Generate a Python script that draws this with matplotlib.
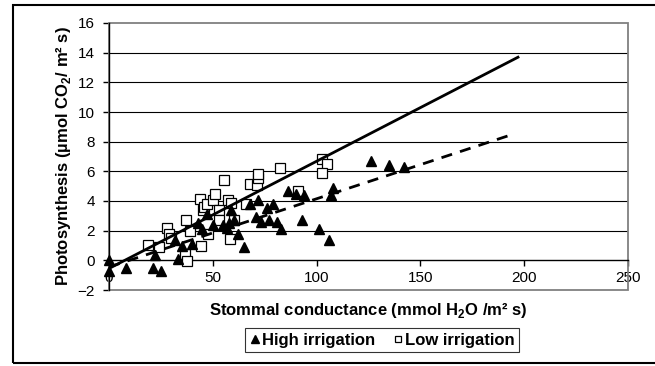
import matplotlib
matplotlib.use('Agg')
import matplotlib.pyplot as plt
import numpy as np
from matplotlib.patches import Rectangle

plt.rcParams['font.family'] = ['Liberation Sans', 'DejaVu Sans']
plt.rcParams['mathtext.fontset'] = 'custom'
plt.rcParams['mathtext.rm'] = 'Liberation Sans'
plt.rcParams['mathtext.bf'] = 'Liberation Sans:bold'

# High irrigation (triangles)
high_x = [0, 0, 8, 21, 25, 22, 33, 35, 32, 40, 43, 45, 47, 50, 55, 57, 58, 59, 60, 62,
          65, 68, 71, 72, 73, 76, 77, 79, 81, 83, 86, 90, 93, 94, 101, 106, 107, 108,
          126, 135, 142]
high_y = [0.0, -0.7, -0.5, -0.5, -0.7, 0.35, 0.1, 1.0, 1.4, 1.1, 2.5, 2.1, 3.15, 2.4, 2.4,
          2.2, 2.5, 3.4, 2.7, 1.8, 0.9, 3.8, 2.9, 4.1, 2.6, 3.5, 2.7, 3.8, 2.6, 2.1, 4.7,
          4.5, 2.75, 4.4, 2.1, 1.4, 4.4, 4.9, 6.7, 6.4, 6.3]

# Low irrigation (open squares)
low_x = [19, 24, 28, 29, 30, 37, 36.5, 37.5, 39, 44, 44.5, 45.5, 46, 47, 47.5, 50, 51, 53,
         53, 55.5, 57.5, 58.3, 59, 60, 66, 68, 71.5, 72, 72, 82.5, 91, 102.5, 105, 102.5]
low_y = [1.05, 0.9, 2.15, 1.75, 1.5, 2.75, 0.45, -0.05, 2.0, 4.15, 0.95, 3.4, 3.6, 3.8, 1.8,
         4.05, 4.45, 3.4, 2.7, 5.4, 4.1, 1.45, 3.85, 2.7, 3.8, 5.15, 5.1, 5.55, 5.85, 6.25,
         4.7, 6.85, 6.5, 5.9]

# trend lines: (intercept, slope, x end)
high_fit = (-0.55, 0.0723, 197)
low_fit = (-0.45, 0.0460, 195)

fig = plt.figure(figsize=(6.55, 3.66), dpi=100)
ax = fig.add_axes([109 / 655, 1 - 290 / 366, 519 / 655, 267 / 366])

ax.set_xlim(0, 250)
ax.set_ylim(-2, 16)
ax.set_xticks(np.arange(0, 251, 50))
ax.set_yticks(np.arange(-2, 17, 2))

for yy in range(2, 16, 2):
    ax.axhline(yy, color='black', lw=0.8, zorder=1)
ax.add_patch(Rectangle((0, 0), 1, 1, transform=ax.transAxes, fill=False,
                       ec='#808080', lw=1.3, clip_on=False, zorder=2))

ax.spines['top'].set_visible(False)
ax.spines['right'].set_visible(False)
ax.spines['bottom'].set_position(('data', 0))
ax.spines['bottom'].set_color('black')
ax.spines['left'].set_color('black')
ax.spines['bottom'].set_linewidth(1.0)
ax.spines['left'].set_linewidth(1.0)
ax.tick_params(axis='both', direction='out', length=4, width=1, labelsize=11)
ax.tick_params(axis='y', pad=6)
ax.tick_params(axis='x', pad=4)

ax.plot(high_x, high_y, linestyle='none', marker='^', ms=7.5, color='black',
        label='High irrigation', zorder=4, clip_on=False)
ax.plot(low_x, low_y, linestyle='none', marker='s', ms=6.5, mfc='white', mec='black',
        mew=0.9, label='Low irrigation', zorder=3, clip_on=False)

xs = np.array([0, high_fit[2]])
ax.plot(xs, high_fit[0] + high_fit[1] * xs, color='black', lw=2, zorder=5)
xs = np.array([0, low_fit[2]])
ax.plot(xs, low_fit[0] + low_fit[1] * xs, color='black', lw=2, ls=(0, (4, 3)), zorder=5)

ax.set_ylabel('Photosynthesis (µmol CO$_\\mathbf{2}$/ m² s)', fontsize=12,
              fontweight='bold')
ax.set_xlabel('Stommal conductance (mmol H$_\\mathbf{2}$O /m² s)', fontsize=12,
              fontweight='bold')
ax.xaxis.set_label_coords(0.5, -0.04)
ax.yaxis.set_label_coords(-0.07, 0.5)

handles, labels = ax.get_legend_handles_labels()
leg = fig.legend(handles, labels, loc='center', bbox_to_anchor=(382 / 655, 1 - 340 / 366),
                 ncol=2, frameon=True, fancybox=False, edgecolor='black',
                 handlelength=0.7, handletextpad=0.1, columnspacing=1.0, markerscale=0.75,
                 borderpad=0.25, prop={'weight': 'bold', 'size': 12})
leg.get_frame().set_linewidth(0.8)

fig.add_artist(Rectangle((13 / 655, 3 / 366), 1.0, 358 / 366, transform=fig.transFigure,
                         fill=False, ec='black', lw=1.5))

fig.savefig('out.png', dpi=100)
